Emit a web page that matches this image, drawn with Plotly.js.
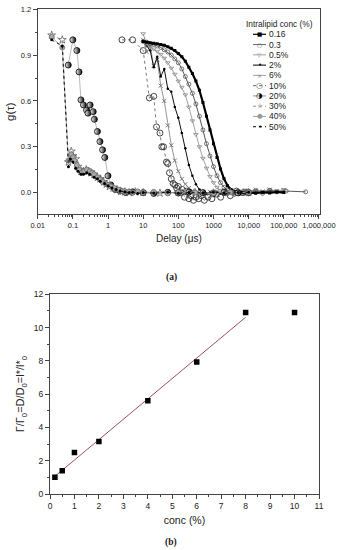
<!DOCTYPE html>
<html><head><meta charset="utf-8">
<script src="https://cdn.plot.ly/plotly-3.0.1.min.js"></script>
<style>html,body{margin:0;padding:0;background:#fff}#chart{width:342px;height:550px}</style>
</head><body><div id="chart"></div>
<script>
// ---------- panel (a): g(tau) vs delay (us) ----------
const delaySlow = [10, 12.59, 15.85, 19.95, 25.12, 31.62, 39.81, 50.12, 63.1, 79.43,
  100, 125.9, 158.5, 199.5, 251.2, 316.2, 398.1, 501.2, 631, 794.3,
  1000, 1259, 1585, 1995, 2512, 3162, 3981, 5012, 6310, 7943,
  10000, 15849, 25119, 39811, 63096, 100000];
const delay03 = [10, 12.59, 15.85, 19.95, 25.12, 31.62, 39.81, 50.12, 63.1, 79.43,
  100, 125.9, 158.5, 199.5, 251.2, 316.2, 398.1, 501.2, 631, 794.3,
  1000, 1259, 1585, 1995, 2512, 3162, 3981, 5012, 6310, 7943,
  10000, 15849, 25119, 39811, 63096, 117000, 420000];
const g016 = [0.99,0.985,0.98,0.978,0.975,0.97,0.965,0.955,0.945,0.93,
  0.91,0.89,0.86,0.82,0.78,0.73,0.67,0.59,0.50,0.41,
  0.32,0.23,0.155,0.09,0.045,0.02,0.008,0.002,0.0,-0.003,
  0.002,-0.004,0.003,-0.002,0.004,0.0];
const g03 = [0.99,0.985,0.975,0.97,0.96,0.95,0.935,0.92,0.90,0.875,
  0.85,0.81,0.76,0.71,0.65,0.58,0.50,0.41,0.32,0.24,
  0.17,0.11,0.065,0.035,0.015,0.005,-0.01,0.008,-0.006,0.01,
  -0.008,0.012,-0.005,0.015,0.005,0.01,0.005];
const g05 = [1.04,0.97,0.955,0.94,0.925,0.905,0.88,0.85,0.815,0.775,
  0.73,0.69,0.64,0.56,0.47,0.38,0.30,0.225,0.16,0.105,
  0.065,0.035,0.015,0.005,-0.01,0.008,-0.012,0.01,-0.005,0.012,
  0.003,0.014,0.006,0.018,0.01,0.02];
const g2 = [0.99,0.96,0.93,0.82,0.89,0.76,0.81,0.68,0.66,0.56,
  0.49,0.39,0.29,0.18,0.11,0.055,0.02,0.005,-0.005,0.003,
  -0.004,0.002,-0.006,0.004,-0.003,0.0,-0.005,0.003,-0.002,0.004,
  -0.004,0.003,-0.003,0.005,0.0,0.003];
const g6 = [1.0,0.92,0.96,0.83,0.87,0.70,0.60,0.44,0.31,0.21,
  0.14,0.09,0.055,0.03,0.012,0.0,-0.008,0.005,-0.01,0.006,
  -0.006,0.008,-0.004,0.01,0.0,0.012,-0.003,0.01,0.004,0.015,
  0.006,0.018,0.008,0.02,0.01,0.015];
const delay10 = [2.5,5,10,15,20,24,30,34,38,46,50,56,63,71,80,90,100,115,130,150,
  170,200,230,270,320,380,450,550,700,900,1200,1600,2200,3000,4500,7000];
const g10 = [1.0,1.0,0.93,0.62,0.63,0.43,0.39,0.30,0.30,0.20,
  0.19,0.13,0.09,0.06,0.05,0.03,0.04,0.0,0.02,-0.03,
  0.01,-0.04,-0.02,-0.05,-0.03,-0.04,-0.02,-0.05,-0.03,-0.04,
  -0.01,-0.03,0.0,-0.02,0.01,0.0];
const delay20 = [0.074,0.10,0.13,0.15,0.17,0.20,0.245,0.27,0.31,0.38,0.41,0.50,0.59,0.70,0.81,
  1.0,1.2,1.6,2.2,3.2,5,10,20,50,100,200,500,1000,2000,5000,10000];
const g20 = [0.835,1.0,0.93,0.79,0.607,0.574,0.54,0.52,0.574,0.53,0.48,0.40,0.334,0.28,0.23,
  0.11,0.05,0.02,0.01,0.0,0.005,0.0,-0.005,0.002,-0.003,0.004,0.0,-0.004,0.003,-0.002,0.0];
const delay30 = [0.025,0.05,0.075,0.09,0.1,0.12,0.14,0.17,0.2,0.24,0.28,0.33,0.4,0.5,0.6,
  0.75,0.9,1.1,1.4,1.8,2.3,3,4,6,10,30,100,300,1000,3000,10000];
const g30 = [1.03,1.0,0.20,0.27,0.24,0.22,0.17,0.14,0.14,0.15,0.14,0.13,0.12,0.10,0.09,
  0.07,0.055,0.04,0.03,0.02,0.01,0.005,0.0,0.005,0.0,-0.003,0.002,0.0,-0.002,0.003,0.0];
const delay40 = [0.025,0.05,0.075,0.09,0.1,0.11,0.13,0.15,0.18,0.21,0.25,0.3,0.35,0.4,0.5,
  0.6,0.7,0.85,1.0,1.2,1.5,2,2.5,3,4,5,7,10,20,50,100,300,1000,3000,10000];
const g40 = [1.02,0.95,0.21,0.25,0.23,0.21,0.18,0.15,0.13,0.14,0.15,0.14,0.13,0.12,0.10,
  0.085,0.07,0.06,0.05,0.04,0.03,0.02,0.01,0.01,0.005,0.0,0.008,0.0,0.005,-0.005,0.003,0.0,-0.004,0.003,0.0];
const delay50 = [0.025,0.05,0.075,0.085,0.1,0.12,0.14,0.17,0.2,0.25,0.3,0.4,0.5,0.6,0.8,
  1.0,1.3,1.7,2.2,3,4,5,7,10,20,50,100,200,500,1000,2000,5000,10000];
const g50 = [1.0,0.96,0.17,0.22,0.20,0.16,0.14,0.12,0.12,0.13,0.12,0.10,0.09,0.075,0.06,
  0.045,0.03,0.02,0.01,0.005,0.0,0.003,-0.005,0.0,-0.003,0.002,-0.004,0.0,-0.002,0.003,-0.003,0.0,0.002];

const delayTickVals = [0.01,0.1,1,10,100,1000,10000,100000,1000000];
const delayTickText = ['0.01','0.1','1','10','100','1000','10,000','100,000','1,000,000'];

const legendLabels = ['0.16','0.3','0.5%','2%','6%','10%','20%','30%','40%','50%'];
const legendGlyphs = ['■','○','▽','•','×','○','◑','☆','●','•'];

// ---------- panel (b): ratio vs concentration ----------
const concX = [0.2, 0.5, 1, 2, 4, 6, 8, 10];
const ratioY = [1.0, 1.4, 2.5, 3.15, 5.6, 7.93, 10.9, 10.9];
const fitX = [0.2, 8];
const fitY = [1.06, 10.62];

// ---------- helpers ----------
const W = 342, H = 550;
const px = v => v / W;
const py = v => 1 - v / H;
const FONT = 'Liberation Sans, Arial, sans-serif';

function ser(x, y, name, marker, line, mode) {
  return {x: x, y: y, name: name, type: 'scatter', mode: mode || 'lines+markers',
    xaxis: 'x', yaxis: 'y', marker: marker, line: line, showlegend: false, cliponaxis: true};
}

const traces = [
  ser(delay10, g10, '10%', {symbol: 'circle-open', size: 6, color: '#333', line: {width: 0.9}}, {color: '#555', width: 0.8, dash: 'dot'}),
  ser(delaySlow, g6, '6%', {symbol: 'x-thin-open', size: 4, color: '#777', line: {width: 1, color: '#777'}}, {color: '#888', width: 0.9}),
  ser(delaySlow, g2, '2%', {symbol: 'circle', size: 2.5, color: '#000'}, {color: '#111', width: 1}),
  ser(delaySlow, g05, '0.5%', {symbol: 'triangle-down-open', size: 4, color: '#888', line: {width: 0.8}}, {color: '#999', width: 0.9}),
  ser(delay03, g03, '0.3', {symbol: 'circle-open', size: 4, color: '#555', line: {width: 0.8}}, {color: '#444', width: 0.9}),
  ser(delaySlow, g016, '0.16', {symbol: 'square', size: 3, color: '#000'}, {color: '#000', width: 2.2}),
  ser(delay20, g20, '20%', {symbol: 'circle', size: 6, color: '#fff', line: {color: '#000', width: 0.8},
     gradient: {type: 'horizontal', color: '#000'}}, {color: '#888', width: 0.6}),
  ser(delay30, g30, '30%', {symbol: 'star-open', size: 6, color: '#666', line: {width: 0.8}}, {color: '#777', width: 0.8, dash: 'dot'}),
  ser(delay40, g40, '40%', {symbol: 'circle', size: 5, color: '#aaa', line: {color: '#666', width: 0.7}}, {color: '#999', width: 0.8}),
  ser(delay50, g50, '50%', {symbol: 'circle', size: 3, color: '#000'}, {color: '#000', width: 0.9, dash: 'dot'}),
  {x: fitX, y: fitY, type: 'scatter', mode: 'lines', xaxis: 'x2', yaxis: 'y2', showlegend: false,
    line: {color: '#a0505a', width: 1}},
  {x: concX, y: ratioY, type: 'scatter', mode: 'markers', xaxis: 'x2', yaxis: 'y2', showlegend: false,
    marker: {symbol: 'square', size: 5.5, color: '#000'}}
];

// legend (drawn manually, compact like the original)
const shapes = [];
const annotations = [];
const legStyles = [
  {c: '#000', w: 1.2, d: 'solid', gc: '#000', gs: 5.5},
  {c: '#555', w: 0.9, d: 'solid', gc: '#555', gs: 6},
  {c: '#999', w: 0.9, d: 'solid', gc: '#888', gs: 5.5},
  {c: '#000', w: 1.0, d: 'solid', gc: '#000', gs: 7},
  {c: '#999', w: 0.9, d: 'solid', gc: '#777', gs: 6},
  {c: '#555', w: 0.9, d: 'dot', gc: '#444', gs: 8},
  {c: '#777', w: 0.8, d: 'solid', gc: '#000', gs: 7.5},
  {c: '#888', w: 0.9, d: 'dot', gc: '#666', gs: 6.5},
  {c: '#999', w: 0.9, d: 'solid', gc: '#999', gs: 6.5},
  {c: '#000', w: 1.0, d: 'dot', gc: '#000', gs: 7}
];
annotations.push({xref: 'paper', yref: 'paper', x: px(244), y: py(24), xanchor: 'left', yanchor: 'middle',
  text: 'Intralipid conc (%)', showarrow: false, font: {family: FONT, size: 8.3, color: '#222'}});
legendLabels.forEach((lab, i) => {
  const ry = 34.3 + i * 10.27;
  const s = legStyles[i];
  shapes.push({type: 'line', xref: 'paper', yref: 'paper', x0: px(253), x1: px(266), y0: py(ry), y1: py(ry),
    line: {color: s.c, width: s.w, dash: s.d}});
  annotations.push({xref: 'paper', yref: 'paper', x: px(259.5), y: py(ry), xanchor: 'center', yanchor: 'middle',
    text: legendGlyphs[i], showarrow: false, font: {family: 'DejaVu Sans', size: s.gs, color: s.gc}});
  annotations.push({xref: 'paper', yref: 'paper', x: px(266.5), y: py(ry), xanchor: 'left', yanchor: 'middle',
    text: lab, showarrow: false, font: {family: FONT, size: 8.5, color: '#222'}});
});
annotations.push({xref: 'paper', yref: 'paper', x: px(171), y: py(277), xanchor: 'center', yanchor: 'middle',
  text: '<b>(a)</b>', showarrow: false, font: {family: 'Liberation Serif, Times New Roman, serif', size: 9.5, color: '#222'}});
annotations.push({xref: 'paper', yref: 'paper', x: px(171), y: py(542), xanchor: 'center', yanchor: 'middle',
  text: '<b>(b)</b>', showarrow: false, font: {family: 'Liberation Serif, Times New Roman, serif', size: 9.5, color: '#222'}});

const axCommon = {showline: true, mirror: true, linecolor: '#444', linewidth: 1, ticks: 'outside',
  tickcolor: '#444', tickwidth: 1, showgrid: false, zeroline: false};

const layout = {
  width: W, height: H, margin: {l: 0, r: 0, t: 0, b: 0},
  paper_bgcolor: '#fff', plot_bgcolor: '#fff', showlegend: false,
  font: {family: FONT, color: '#222'},
  xaxis: Object.assign({}, axCommon, {
    domain: [px(37.7), px(320)], type: 'log', range: [-2, 6.03],
    tickmode: 'array', tickvals: delayTickVals, ticktext: delayTickText,
    ticklen: 4, tickfont: {size: 7.5, color: '#222'},
    minor: {ticks: 'outside', ticklen: 2, tickcolor: '#444', dtick: 'D1'},
    title: {text: 'Delay (μs)', font: {size: 10, color: '#222'}, standoff: 5}
  }),
  yaxis: Object.assign({}, axCommon, {
    domain: [py(214), py(9.3)], range: [-0.14, 1.2], dtick: 0.3, tick0: 0, tickformat: '.1f',
    ticklen: 4, tickfont: {size: 7.5, color: '#222'},
    minor: {ticks: 'outside', ticklen: 2, tickcolor: '#444', dtick: 0.15},
    title: {text: 'g(τ)', font: {size: 11.5, color: '#222'}, standoff: 3}
  }),
  xaxis2: Object.assign({}, axCommon, {
    domain: [px(50), px(319)], range: [0, 11], dtick: 1, tick0: 0, anchor: 'y2',
    ticklen: 4, tickfont: {size: 8.5, color: '#222'},
    minor: {ticks: 'outside', ticklen: 2, tickcolor: '#444', dtick: 0.5},
    title: {text: 'conc (%)', font: {size: 10.5, color: '#222'}, standoff: 6}
  }),
  yaxis2: Object.assign({}, axCommon, {
    domain: [py(494), py(294.3)], range: [0, 12], dtick: 2, tick0: 0, anchor: 'x2',
    ticklen: 4, tickfont: {size: 8.5, color: '#222'},
    minor: {ticks: 'outside', ticklen: 2, tickcolor: '#444', dtick: 1},
    title: {text: 'Γ/Γ<sub>0</sub>=D/D<sub>0</sub>=l*/l*<sub>0</sub>', font: {size: 11, color: '#222'}, standoff: 6}
  }),
  shapes: shapes,
  annotations: annotations
};

Plotly.newPlot('chart', traces, layout, {staticPlot: true, displayModeBar: false});
</script>
</body></html>
